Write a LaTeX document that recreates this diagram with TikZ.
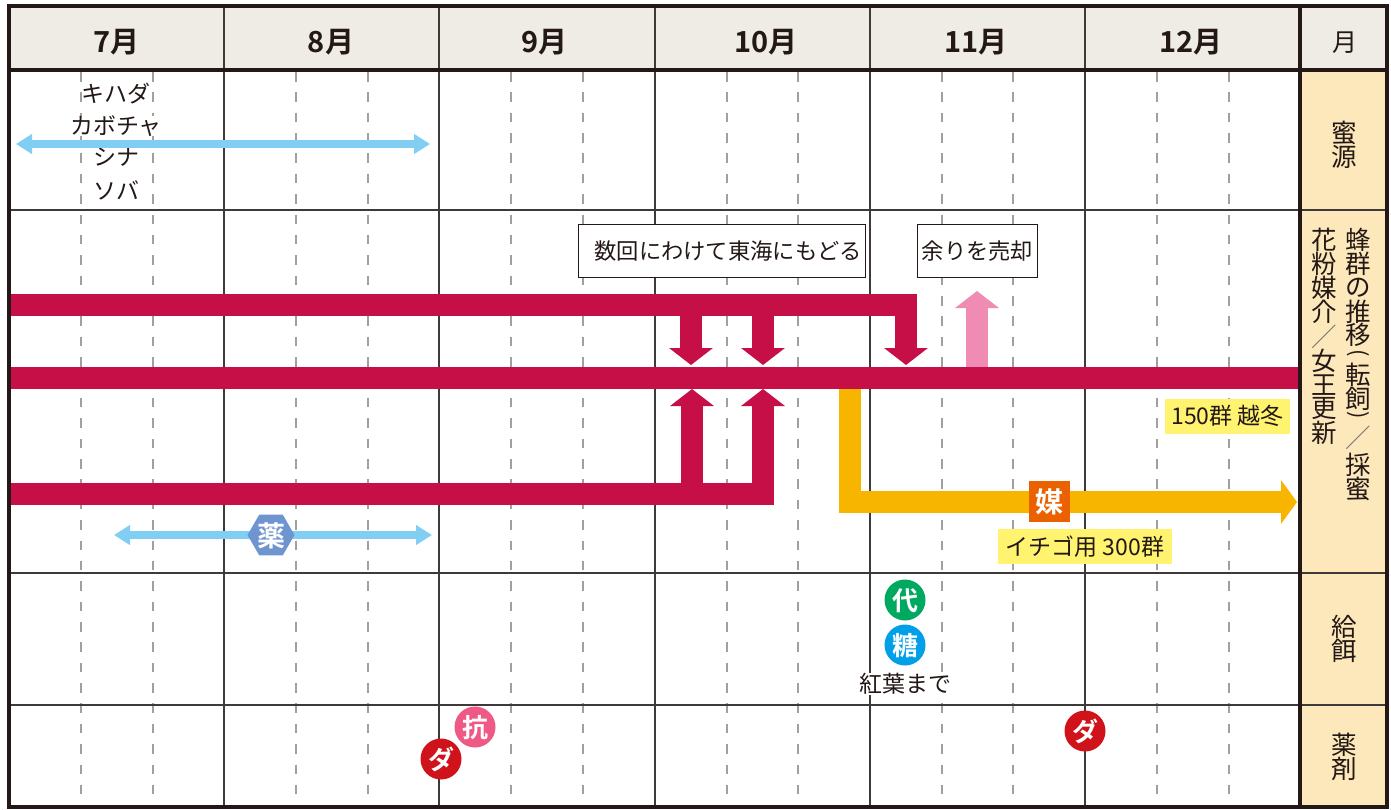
\documentclass[tikz,border=0pt]{standalone}
\usepackage{fontspec}
\usetikzlibrary{arrows.meta,shapes.geometric}
\setmainfont{Noto Sans CJK JP}
\newfontfamily\jpbold{Noto Sans CJK JP Bold}
\newcommand{\fsz}[1]{\fontsize{#1pt}{#1pt}\selectfont}
\newcommand{\ctxt}[1]{\raisebox{-0.40em}[0pt][0pt]{\makebox[0pt]{#1}}}
\newcommand{\vch}[2]{\hbox to 30pt{\hss\vbox to #1pt{\vss\hbox{#2}\vss}\hss}}
\newcommand{\rotch}[1]{\rotatebox[origin=c]{-90}{\fsz{22}#1}}
\newcommand{\thinsl}{\textcolor{ink!60}{／}}
\definecolor{ink}{HTML}{231815}
\definecolor{rule}{HTML}{3E3A39}
\definecolor{dashc}{HTML}{A0A0A0}
\definecolor{headbg}{HTML}{EFECE5}
\definecolor{sidebg}{HTML}{FDE8BC}
\definecolor{crimson}{HTML}{C70F47}
\definecolor{pinkar}{HTML}{F08BB4}
\definecolor{amber}{HTML}{F8B500}
\definecolor{skyar}{HTML}{80CEF4}
\definecolor{notey}{HTML}{FFF36F}
\definecolor{orangeb}{HTML}{EB6100}
\definecolor{hexb}{HTML}{6F95D0}
\definecolor{greenb}{HTML}{00A960}
\definecolor{cyanb}{HTML}{00A0E9}
\definecolor{redb}{HTML}{D0121B}
\definecolor{rosb}{HTML}{EE5A85}
\tikzset{
  x=1pt,y=-1pt,
  frame/.style={draw=ink,line width=4pt},
  gridv/.style={draw=rule,line width=1.8pt},
  gridh/.style={draw=rule,line width=1.8pt},
  quarter/.style={draw=dashc,line width=1.4pt,dash pattern=on 9.5pt off 10.87pt},
  month/.style={font=\jpbold\fsz{29},text=ink,inner sep=0pt},
  sidetxt/.style={font=\fsz{25.5},text=ink,inner sep=0pt,anchor=north},
  plant/.style={font=\fsz{23},text=ink,inner sep=0pt},
  notebox/.style={draw=ink,line width=0.9pt,fill=white,inner sep=0pt,font=\fsz{22.3},text=ink},
  yellownote/.style={fill=notey,inner sep=0pt,font=\fsz{23},text=ink},
  mainbar/.style={draw=crimson,line width=22.5pt},
  moveup/.style={draw=crimson,line width=22.5pt,-{Triangle[width=43pt,length=17pt]}},
  soldar/.style={draw=pinkar,line width=22pt,-{Triangle[width=43pt,length=17pt]}},
  bee/.style={draw=amber,line width=22pt,line join=miter,-{Triangle[width=43pt,length=16pt]}},
  span/.style={draw=skyar,line width=8pt,{Triangle[width=19pt,length=16pt]}-{Triangle[width=19pt,length=16pt]}},
  badge/.style={circle,minimum size=41pt,inner sep=0pt,text=white,font=\jpbold\fsz{26}},
}
\begin{document}
\begin{tikzpicture}
\useasboundingbox (0,0) rectangle (1391,809);
\fill[white] (0,0) rectangle (1391,809);
% backgrounds
\fill[headbg] (9,6) rectangle (1387,70);
\fill[sidebg] (1300,70) rectangle (1387,807);
% quarter lines
\foreach \qx in {81,153,296,368,511,583,727,798,942,1013,1157,1229}
  \draw[quarter] (\qx,72) -- (\qx,805);
% month lines
\foreach \mx in {224,439,655,870,1085}
  \draw[gridv] (\mx,6) -- (\mx,807);
% rows
\foreach \ry in {210,573,705}
  \draw[gridh] (9,\ry) -- (1387,\ry);
% frame
\draw[frame] (9,70) -- (1387,70);
\draw[frame] (1300,6) -- (1300,807);
\draw[frame] (9,6) rectangle (1387,807);
% months
\node[month] (m7) at (116.5,42) {7月};
\node[month] (m8) at (331,42) {8月};
\node[month] (m9) at (544.5,42) {9月};
\node[month] (m10) at (766,42) {10月};
\node[month] (m11) at (976,42) {11月};
\node[month] (m12) at (1191,42) {12月};
\node[font=\fsz{25},text=ink,inner sep=0pt] (mh) at (1344.5,43) {月};
% side labels
\node[sidetxt] (s1) at (1344,121) {\vbox{\offinterlineskip\vch{24}{蜜}\vch{24}{源}}};
\node[sidetxt] (s2) at (1358,228) {\vbox{\offinterlineskip
  \vch{23.8}{蜂}\vch{23.8}{群}\vch{23.8}{の}\vch{23.8}{推}\vch{23.8}{移}%
  \vch{16}{\rotch{(}}\vch{24}{転}\vch{23.8}{飼}\vch{12}{\rotch{)}}%
  \vch{30}{\thinsl}\vch{23.8}{採}\vch{23.8}{蜜}}};
\node[sidetxt] (s3) at (1324,228) {\vbox{\offinterlineskip
  \vch{23.8}{花}\vch{23.8}{粉}\vch{23.8}{媒}\vch{23.8}{介}%
  \vch{26}{\thinsl}\vch{23.8}{女}\vch{23.8}{王}\vch{23.8}{更}\vch{23.8}{新}}};
\node[sidetxt] (s4) at (1344,615) {\vbox{\offinterlineskip\vch{24}{給}\vch{24}{餌}}};
\node[sidetxt] (s5) at (1344,733) {\vbox{\offinterlineskip\vch{24}{薬}\vch{24}{剤}}};
% coordinates
\coordinate (ta) at (11,305);   \coordinate (tb) at (917,305);
\coordinate (ma) at (11,378);   \coordinate (mb) at (1298,378);
\coordinate (la) at (11,494);   \coordinate (lb) at (774,494);
\coordinate (d1a) at (691,305); \coordinate (d1b) at (691,365);
\coordinate (d2a) at (763,305); \coordinate (d2b) at (763,365);
\coordinate (d3a) at (906,305); \coordinate (d3b) at (906,365);
\coordinate (u1a) at (692,494); \coordinate (u1b) at (692,389);
\coordinate (u2a) at (763,494); \coordinate (u2b) at (763,389);
\coordinate (sa) at (977,367);  \coordinate (sb) at (977,291);
\coordinate (ya) at (850,389);  \coordinate (yb) at (1297,502);
\coordinate (b1a) at (16,144);  \coordinate (b1b) at (430,144);
\coordinate (b2a) at (114,535); \coordinate (b2b) at (432,535);
% plants
\node[plant] (p1) at (116,94) {キハダ};
\node[plant,fill=white] (p2) at (116,126) {カボチャ};
\node[plant] (p3) at (116,157) {シナ};
\node[plant] (p4) at (116,190) {ソバ};
% spans
\draw[span] (b1a) -- (b1b);
\draw[span] (b2a) -- (b2b);
\node[regular polygon,regular polygon sides=6,fill=hexb,minimum size=47pt,inner sep=0pt,text=white,font=\jpbold\fsz{28}] (hx) at (271,535) {\ctxt{薬}};
% hive movements
\draw[bee] (ya) |- (yb);
\draw[moveup] (d1a) -- (d1b);
\draw[moveup] (d2a) -- (d2b);
\draw[moveup] (d3a) -- (d3b);
\draw[moveup] (u1a) -- (u1b);
\draw[moveup] (u2a) -- (u2b);
\draw[soldar] (sa) -- (sb);
\draw[mainbar] (ta) -- (tb);
\draw[mainbar] (ma) -- (mb);
\draw[mainbar] (la) -- (lb);
% notes
\node[notebox,minimum width=287pt,minimum height=53pt] (n1) at (722,251) {\hspace{12pt}数回にわけて東海にもどる};
\node[notebox,minimum width=120pt,minimum height=53pt] (n2) at (977.5,251) {余りを売却};
\node[yellownote,minimum width=125pt,minimum height=35pt] (n3) at (1227.5,416) {150群 越冬};
\node[yellownote,minimum width=174pt,minimum height=35pt] (n4) at (1085,546.5) {イチゴ用 300群};
\node[fill=orangeb,minimum size=41pt,inner sep=0pt,text=white,font=\jpbold\fsz{28}] (bt) at (1049.5,501.5) {\ctxt{媒}};
% badges
\node[badge,fill=greenb] (c1) at (905,600) {\ctxt{代}};
\node[badge,fill=cyanb] (c2) at (905,645) {\ctxt{糖}};
\node[plant,fill=white] (kk) at (905,684) {紅葉まで};
\node[badge,fill=rosb] (c3) at (475,727) {\ctxt{抗}};
\node[badge,fill=redb] (c4) at (441,759) {\ctxt{ダ}};
\node[badge,fill=redb] (c5) at (1085,731) {\ctxt{ダ}};
\end{tikzpicture}
\end{document}
